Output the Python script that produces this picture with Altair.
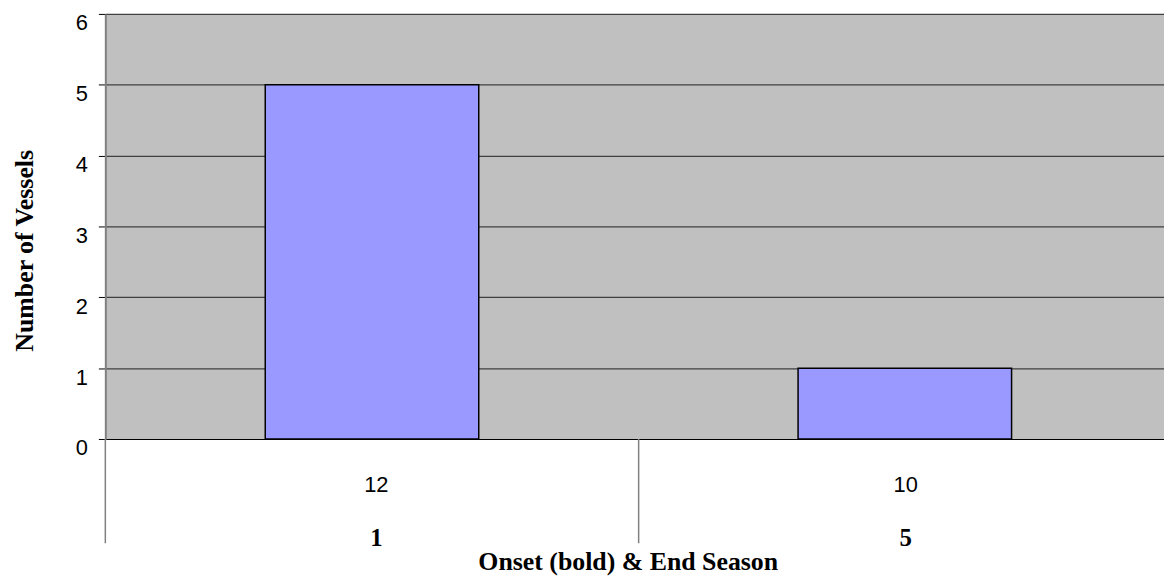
import altair as alt
import pandas as pd

# Data
onset = ["1", "5"]          # bold, lower level of the category axis
end_season = ["12", "10"]   # upper level of the category axis
vessels = [5, 1]

keys = [f"{o}-{e}" for o, e in zip(onset, end_season)]
df = pd.DataFrame({"key": keys, "onset": onset, "end": end_season, "vessels": vessels})

SANS = "Liberation Sans"
SERIF = "Liberation Serif"
W, H = 1066, 428

xscale = alt.Scale(domain=keys, paddingInner=0.5993, paddingOuter=0.2931, align=0.512)

base = alt.Chart(df)

bars = base.mark_bar(color="#9999FF", stroke="black", strokeWidth=1.5).encode(
    x=alt.X("key:N", scale=xscale, sort=keys,
            axis=alt.Axis(labels=False, ticks=False, domain=True, domainColor="black",
                          domainWidth=1.2, grid=False,
                          title="Onset (bold) & End Season",
                          titleFont=SERIF, titleFontSize=26, titleFontWeight="bold",
                          titleColor="black", titleX=526, titleY=131,
                          titleAlign="center", titleBaseline="alphabetic")),
    y=alt.Y("vessels:Q", scale=alt.Scale(domain=[0, 6], nice=False),
            axis=alt.Axis(values=[0, 1, 2, 3, 4, 5, 6], grid=True, gridColor="#404040",
                          gridWidth=1.2, domainColor="#808080", domainWidth=2,
                          tickColor="black", tickSize=7, tickWidth=1,
                          labelFont=SANS, labelFontSize=22, labelColor="black",
                          labelPadding=11, labelBaseline="alphabetic", labelOffset=16,
                          title="Number of Vessels", titleFont=SERIF, titleFontSize=26,
                          titleFontWeight="bold", titleColor="black", titleAngle=270,
                          titleX=-73, titleY=238, titleAlign="center",
                          titleBaseline="alphabetic")),
)

end_labels = base.mark_text(font=SANS, fontSize=22, color="black", baseline="middle").encode(
    x=alt.X("key:N", scale=xscale, sort=keys, axis=None),
    y=alt.value(474),
    text="end:N",
)

onset_labels = base.mark_text(font=SERIF, fontSize=25, fontWeight="bold", color="black",
                              baseline="middle").encode(
    x=alt.X("key:N", scale=xscale, sort=keys, axis=None),
    y=alt.value(528),
    text="onset:N",
)

# category-axis separators: at the plot's left edge and between the two categories
sep_df = pd.DataFrame({"pos": [0, 537]})
seps = alt.Chart(sep_df).mark_rule(color="#808080", strokeWidth=1.5).encode(
    x=alt.X("pos:Q", scale=alt.Scale(domain=[0, W], range=[0, W]), axis=None),
    y=alt.value(H),
    y2=alt.value(533),
)

chart = alt.layer(bars, end_labels, onset_labels, seps).resolve_scale(x="independent").properties(
    width=W, height=H,
    autosize=alt.AutoSizeParams(type="none"),
    padding={"left": 98, "top": 4, "right": 0, "bottom": 136},
).configure_view(fill="#C0C0C0", stroke=None)

chart.save("out.html", embed_options={"renderer": "svg", "actions": False})
